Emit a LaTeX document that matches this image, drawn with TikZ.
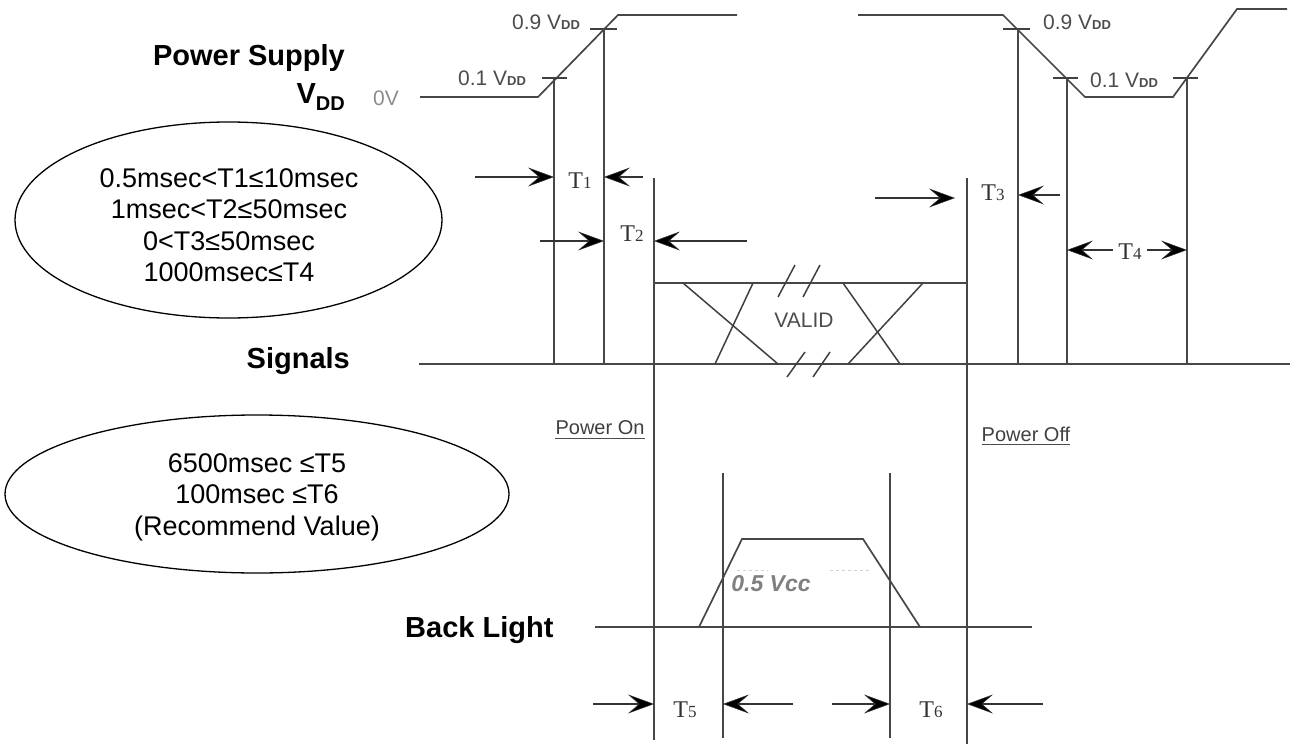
\documentclass[tikz,border=0pt]{standalone}
\usepackage{fontspec}
\setmainfont{Liberation Sans}
\newfontfamily\serifT{Liberation Serif}
\usetikzlibrary{arrows.meta,shapes.geometric}
\newcommand\Tlab[1]{T{\fontsize{17}{17}\selectfont #1}}
\newcommand\Vdd{V{\fontsize{13}{13}\selectfont\bfseries DD}}
\begin{document}
\begin{tikzpicture}[x=1pt,y=-1pt,
  wave/.style={line width=1.7pt, draw=black!72},
  tick/.style={line width=1.5pt, draw=black!75},
  dim/.style={line width=1.5pt, draw=black!80, -{Stealth[length=26pt,width=19pt,inset=11pt,fill=black,line width=0.5pt]}},
  lvl/.style={font=\fontsize{21}{24}\selectfont, text=black!70, inner sep=0pt},
  tlab/.style={font=\serifT\fontsize{24}{26}\selectfont, text=black!80, inner sep=0pt},
  side/.style={font=\bfseries\fontsize{29}{33}\selectfont, inner sep=0pt},
  note/.style={draw, line width=1.3pt, ellipse, inner sep=0pt},
  notetext/.style={font=\fontsize{27}{31.5}\selectfont, align=center, inner sep=0pt},
  pw/.style={font=\fontsize{20}{22}\selectfont, text=black!75, inner sep=0pt},
  uline/.style={line width=1.2pt, draw=black!70},
]
\useasboundingbox (0,0) rectangle (1294,744);

% ---------- side labels ----------
\node[side, anchor=base east] (ps) at (345,65) {Power Supply};
\node[side, anchor=base east] (vdd) at (345,103) {V\raisebox{-7pt}{\fontsize{20}{20}\selectfont DD}};
\node[side, anchor=base east] (sig) at (350,368) {Signals};
\node[side, anchor=base west] (bl) at (405,637) {Back Light};

% ---------- ellipses ----------
\node[note, minimum width=427pt, minimum height=196pt] (e1) at (228.5,220) {};
\node[notetext] (e1t) at (229,225) {0.5msec<T1≤10msec\\1msec<T2≤50msec\\0<T3≤50msec\\1000msec≤T4};
\node[note, minimum width=504pt, minimum height=158pt] (e2) at (257,494) {};
\node[notetext] (e2t) at (257,497) {6500msec ≤T5\\100msec ≤T6\\(Recommend Value)};

% ---------- power supply waveform ----------
\draw[wave] (420,97) -- (538,97) -- (618,15) -- (737,15);
\draw[wave] (858,15) -- (1003,15) -- (1085,97) -- (1173,97) -- (1237,9) -- (1287,9);
\draw[tick] (542,78) -- (567,78);
\draw[tick] (590,29) -- (617,29);
\draw[tick] (1003,29) -- (1030,29);
\draw[tick] (1053,78) -- (1078,78);
\draw[tick] (1173,78) -- (1198,78);
\node[lvl, text=black!45, anchor=center] (l0v) at (386,98) {0V};
\node[lvl, anchor=west] (l01a) at (458,78) {0.1 \Vdd};
\node[lvl, anchor=west] (l09a) at (512,22) {0.9 \Vdd};
\node[lvl, anchor=west] (l09b) at (1043,22) {0.9 \Vdd};
\node[lvl, anchor=west] (l01b) at (1090,80) {0.1 \Vdd};

% ---------- vertical markers ----------
\draw[wave] (554,78) -- (554,364);
\draw[wave] (604,29) -- (604,364);
\draw[wave] (1018,29) -- (1018,364);
\draw[wave] (1067,78) -- (1067,364);
\draw[wave] (1187,78) -- (1187,364);
\draw[wave] (654,178) -- (654,740);
\draw[wave] (967,178) -- (967,744);

% ---------- signals ----------
\draw[wave] (419,364) -- (1290,364);
\draw[wave] (654,283) -- (967,283);
\draw[tick] (683,283) -- (778,364);
\draw[tick] (753,283) -- (715,364);
\draw[tick] (843,283) -- (900,364);
\draw[tick] (923,283) -- (848,364);
\draw[tick] (778,297) -- (795,265);
\draw[tick] (803,297) -- (820,265);
\draw[tick] (787,377) -- (805,352);
\draw[tick] (813,377) -- (830,352);
\node[pw, font=\fontsize{21}{23}\selectfont, text=black!70] (valid) at (804,320) {VALID};

% ---------- power on / off ----------
\node[pw] (pon) at (600,428) {Power On};
\draw[uline] ([yshift=-3pt]pon.south west) -- ([yshift=-3pt]pon.south east);
\node[pw] (poff) at (1026,434) {Power Off};
\draw[uline] ([yshift=-3pt]poff.south west) -- ([yshift=-3pt]poff.south east);

% ---------- back light ----------
\draw[wave] (595,627) -- (1032,627);
\draw[wave] (699,627) -- (742,539) -- (863,539) -- (920,627);
\draw[wave] (723,473) -- (723,738);
\draw[wave] (890,473) -- (890,738);
\draw[gray!35, line width=1pt, dashed] (737,570) -- (768,570);
\draw[gray!35, line width=1pt, dashed] (830,570) -- (870,570);
\node[font=\bfseries\itshape\fontsize{23}{25}\selectfont, text=black!50, inner sep=0pt] (vcc) at (771,584) {0.5 Vcc};

% ---------- timing arrows ----------
\draw[dim] (475,177) -- (554,177);
\draw[dim] (643,177) -- (604,177);
\node[tlab] (t1) at (580,181) {\Tlab1};
\draw[dim] (540,241) -- (604,241);
\draw[dim] (747,241) -- (654,241);
\node[tlab] (t2) at (632,234) {\Tlab2};
\draw[dim] (875,198) -- (955,198);
\draw[dim] (1060,195) -- (1018,195);
\node[tlab] (t3) at (993,193) {\Tlab3};
\node[tlab] (t4) at (1130,252) {\Tlab4};
\draw[dim] (1113,250) -- (1067,250);
\draw[dim] (1147,250) -- (1187,250);
\draw[dim] (593,704) -- (654,704);
\draw[dim] (793,704) -- (723,704);
\node[tlab] (t5) at (685,710) {\Tlab5};
\draw[dim] (832,704) -- (890,704);
\draw[dim] (1043,704) -- (967,704);
\node[tlab] (t6) at (931,710) {\Tlab6};
\end{tikzpicture}
\end{document}
